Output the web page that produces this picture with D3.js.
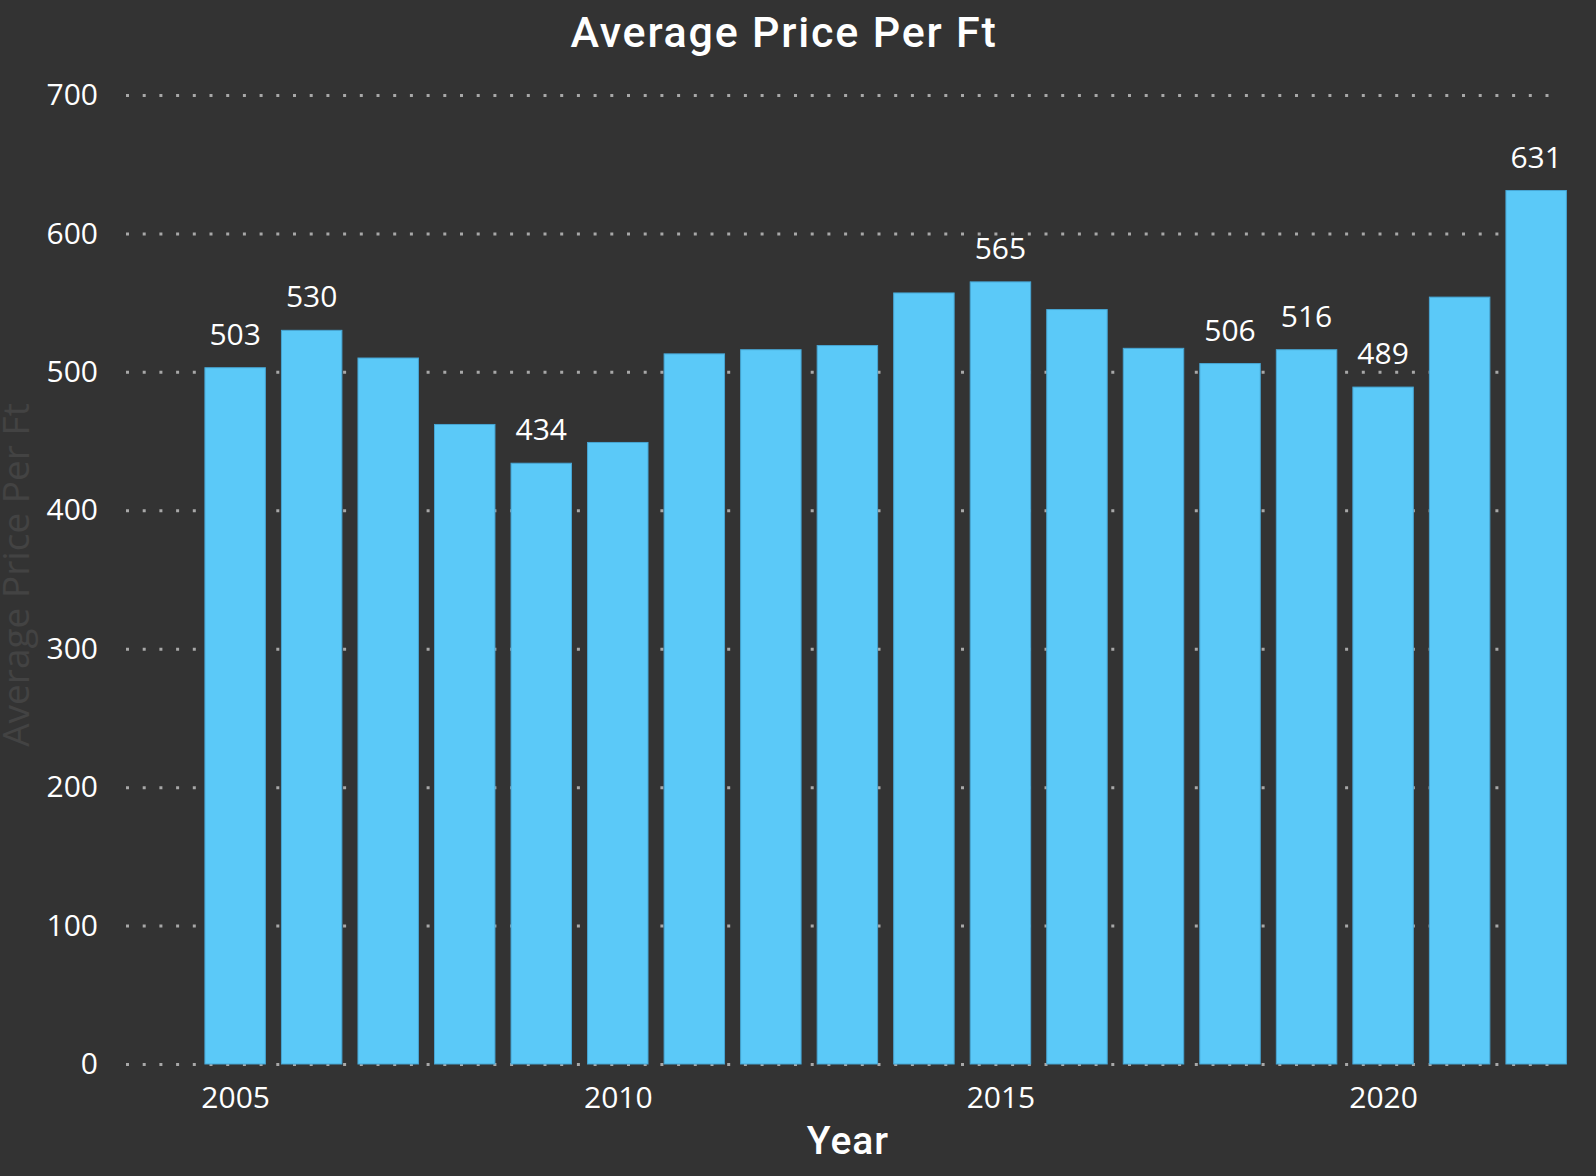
<!DOCTYPE html>
<html>
<head>
<meta charset="utf-8">
<script src="https://cdn.jsdelivr.net/npm/d3@7"></script>
<style>
	html, body { margin:0; padding:0; background:#333333; }
	svg { display:block; }
	.axis path { display:none; }
	.axis-y line { stroke:#a8a8a8; stroke-width:3px; stroke-dasharray:3,13.7; }
	.axis text { fill:#ffffff; font-family:"Open Sans", sans-serif; font-size:30px; }
</style>
</head>
<body>
<div id="chart"></div>
<script>
// data
const years = [2005,2006,2007,2008,2009,2010,2011,2012,2013,2014,2015,2016,2017,2018,2019,2020,2021,2022];
const prices = [503,530,510,462,434,449,513,516,519,557,565,545,517,506,516,489,554,631];
const labelledYears = [2005,2006,2009,2015,2018,2019,2020,2022];
const yTicks = [0,100,200,300,400,500,600,700];
const xTicks = [2005,2010,2015,2020];

const W = 1596;
const H = 1176;
const margin = {t:95, r:30, b:112, l:126};
const innerWidth = W - margin.l - margin.r;
const innerHeight = H - margin.t - margin.b;

const data = years.map((y, i) => ({year:y, value:prices[i]}));

// continuous year axis, like the original
const scaleX = d3.scaleLinear().domain([2003.574, 2022.39]).range([0, innerWidth]);
const scaleY = d3.scaleLinear().domain([0, 700]).range([innerHeight, 0]);
const step = scaleX(2006) - scaleX(2005);
const barW = step * 0.79;

const axisX = d3.axisBottom()
	.scale(scaleX)
	.tickValues(xTicks)
	.tickFormat(d3.format('d'))
	.tickSize(0)
	.tickPadding(23);
const axisY = d3.axisLeft()
	.scale(scaleY)
	.tickValues(yTicks)
	.tickSize(-(innerWidth - 8))
	.tickPadding(28);

const svg = d3.select('#chart').append('svg')
	.attr('width', W)
	.attr('height', H);

svg.append('rect')
	.attr('width', W)
	.attr('height', H)
	.attr('fill', '#333333');

const plot = svg.append('g')
	.attr('transform', `translate(${margin.l}, ${margin.t})`);

plot.append('g')
	.attr('class', 'axis axis-y')
	.call(axisY);

plot.selectAll('.bar')
	.data(data)
	.enter()
	.append('rect')
	.attr('class', 'bar')
	.attr('x', d => scaleX(d.year) - barW/2)
	.attr('y', d => scaleY(d.value))
	.attr('width', barW)
	.attr('height', d => innerHeight - scaleY(d.value))
	.style('fill', '#5bc9f8')
	.style('stroke', '#47a6d4')
	.style('stroke-width', '1px');

plot.selectAll('.label')
	.data(data.filter(d => labelledYears.includes(d.year)))
	.enter()
	.append('text')
	.attr('class', 'label')
	.attr('x', d => scaleX(d.year))
	.attr('y', d => scaleY(d.value) - 23)
	.attr('text-anchor', 'middle')
	.style('fill', '#ffffff')
	.style('font-family', '"Open Sans", sans-serif')
	.style('font-size', '30px')
	.text(d => d.value);

plot.append('g')
	.attr('class', 'axis axis-x')
	.attr('transform', `translate(0, ${innerHeight})`)
	.call(axisX);

// titles
svg.append('text')
	.attr('x', 784)
	.attr('y', 47)
	.attr('text-anchor', 'middle')
	.style('fill', '#ffffff')
	.style('font-family', 'Roboto, sans-serif')
	.style('font-weight', 500)
	.style('font-size', '43px')
	.style('letter-spacing', '1.8px')
	.text('Average Price Per Ft');

svg.append('text')
	.attr('x', margin.l + innerWidth/2 + 2)
	.attr('y', 1154)
	.attr('text-anchor', 'middle')
	.style('fill', '#ffffff')
	.style('font-family', 'Roboto, sans-serif')
	.style('font-weight', 500)
	.style('font-size', '39px')
	.style('letter-spacing', '1px')
	.text('Year');

svg.append('text')
	.attr('transform', `translate(29, 575) rotate(-90)`)
	.attr('text-anchor', 'middle')
	.style('fill', '#434343')
	.style('font-family', '"Open Sans", sans-serif')
	.style('font-size', '37px')
	.text('Average Price Per Ft');
</script>
</body>
</html>
